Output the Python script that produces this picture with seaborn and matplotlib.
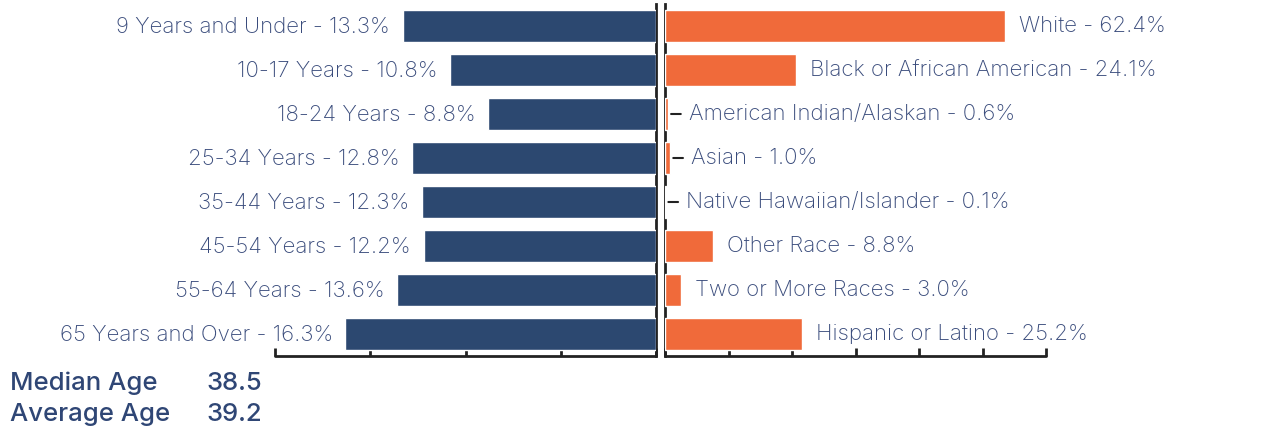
import matplotlib
matplotlib.use("Agg")
import matplotlib.pyplot as plt
import seaborn as sns
import numpy as np
import pandas as pd

# Data
age_groups = ['9 Years and Under', '10-17 Years', '18-24 Years', '25-34 Years',
              '35-44 Years', '45-54 Years', '55-64 Years', '65 Years and Over']
age_pct = [13.3, 10.8, 8.8, 12.8, 12.3, 12.2, 13.6, 16.3]

race_groups = ['White', 'Black or African American', 'American Indian/Alaskan', 'Asian',
               'Native Hawaiian/Islander', 'Other Race', 'Two or More Races', 'Hispanic or Latino']
race_pct = [62.4, 24.1, 0.6, 1.0, 0.1, 8.8, 3.0, 25.2]

summary_labels = ['Median Age', 'Average Age']
summary_values = ['38.5', '39.2']

NAVY = '#2c4870'
ORANGE = '#f06a3a'
TEXT = '#3a4c7c'
SPINE = '#222222'

sns.set_theme(style='white')
plt.rcParams['font.family'] = ['Inter', 'DejaVu Sans']

age_df = pd.DataFrame({'group': age_groups, 'pct': age_pct})
race_df = pd.DataFrame({'group': race_groups, 'pct': race_pct})

fig = plt.figure(figsize=(12.66, 4.30), dpi=100)
ax_l = fig.add_axes([0.2172, 0.1721, 0.3010, 0.8186])
ax_r = fig.add_axes([0.5253, 0.1721, 0.3010, 0.8186])

sns.barplot(data=age_df, x='pct', y='group', orient='h', color=NAVY,
            width=0.73, saturation=1, ax=ax_l, zorder=1)
sns.barplot(data=race_df, x='pct', y='group', orient='h', color=ORANGE,
            width=0.73, saturation=1, ax=ax_r, zorder=1)

# Left: bars grow leftwards
ax_l.set_xlim(20, 0)
ax_l.set_xticks(np.arange(0, 21, 5))
ax_r.set_xlim(0, 70)
ax_r.set_xticks(np.linspace(0, 70, 7))

for ax in (ax_l, ax_r):
    ax.set_ylim(7.5, -0.5)
    ax.set_xlabel('')
    ax.set_ylabel('')
    ax.set_yticks([])
    ax.tick_params(axis='x', direction='in', length=6, width=2, color=SPINE,
                   labelbottom=False, bottom=True)
    for s in ax.spines.values():
        s.set_visible(False)
    ax.spines['bottom'].set_visible(True)
    ax.spines['bottom'].set_color(SPINE)
    ax.spines['bottom'].set_linewidth(2)
    ax.spines['bottom'].set_capstyle('round')

ax_l.spines['right'].set_visible(True)
ax_l.spines['right'].set_color(SPINE)
ax_l.spines['right'].set_linewidth(2)
ax_l.spines['right'].set_zorder(0.5)
ax_r.spines['left'].set_visible(True)
ax_r.spines['left'].set_color(SPINE)
ax_r.spines['left'].set_linewidth(2)
ax_r.spines['left'].set_zorder(0.5)

# Labels
for i, (g, v) in enumerate(zip(age_groups, age_pct)):
    ax_l.annotate(f'{g} - {v}%', xy=(v, i), xytext=(-9, -1), textcoords='offset points',
                  ha='right', va='center', fontsize=16, color=TEXT, fontweight='light')

for i, (g, v) in enumerate(zip(race_groups, race_pct)):
    if v < 2:
        ax_r.annotate('', xy=(v, i), xytext=(9, 0), textcoords='offset points',
                      arrowprops=dict(arrowstyle='-', color=SPINE, lw=1.5,
                                      shrinkA=0, shrinkB=2))
        off = 15
    else:
        off = 10
    ax_r.annotate(f'{g} - {v}%', xy=(v, i), xytext=(off, 0), textcoords='offset points',
                  ha='left', va='center', fontsize=16, color=TEXT, fontweight='light')

# Summary text
for j, (lab, val) in enumerate(zip(summary_labels, summary_values)):
    y = 0.108 - j * 0.072
    fig.text(0.008, y, lab, ha='left', va='center', fontsize=18.5, color='#2f4675',
             fontweight='medium')
    fig.text(0.163, y, val, ha='left', va='center', fontsize=18.5, color='#2f4675',
             fontweight='medium')

fig.savefig('out.png', dpi=100)
